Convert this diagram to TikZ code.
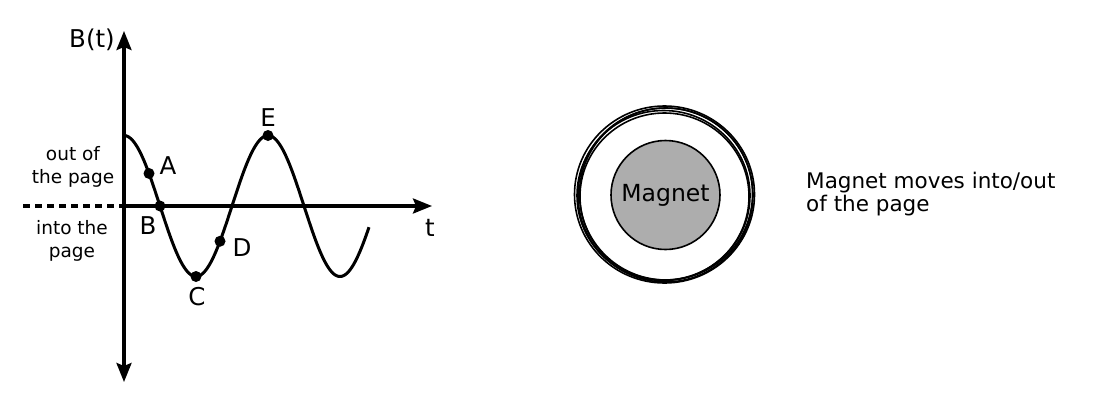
\documentclass[tikz,border=0pt]{standalone}
\usepackage{fontspec}
\setmainfont{DejaVu Sans}
\usetikzlibrary{arrows.meta}
\begin{document}
\begin{tikzpicture}[x=1pt,y=-1pt,
  axis/.style={line width=3.2pt,-{Stealth[length=19pt,width=15pt,inset=3pt]}},
  wave/.style={line width=3pt},
  dotpt/.style={circle,fill=black,inner sep=0pt,minimum size=11pt},
  lbl/.style={font=\fontsize{24.5}{28}\selectfont,inner sep=0pt},
  side/.style={font=\fontsize{18.5}{23}\selectfont,align=center,inner sep=0pt},
  txt/.style={font=\fontsize{21.5}{23.5}\selectfont,align=left,inner sep=0pt},
  coil/.style={line width=1.6pt},
  magnet/.style={circle,draw=black,line width=1.6pt,fill=magnetgray,minimum size=109pt,inner sep=0pt,font=\fontsize{23.5}{26}\selectfont}
]
\definecolor{magnetgray}{HTML}{ADADAD}
\useasboundingbox (0,0) rectangle (1108,402);
% axes
\coordinate (O) at (124,206);
\coordinate (ytop) at (124,31);
\coordinate (ybot) at (124,382);
\coordinate (xend) at (432,206);
\coordinate (xdash) at (23,206);
\draw[axis] (O) -- (ytop);
\draw[axis] (O) -- (ybot);
\draw[axis] (O) -- (xend);
\draw[line width=3.2pt,dash pattern=on 7pt off 5pt] (xdash) -- (O);
% wave
\draw[wave] plot[domain=124:369,samples=160,smooth] (\x,{206-70.5*cos((\x-124)*2.5)});
% points
\node[dotpt] (pA) at (149,{206-70.5*cos((149-124)*2.5)}) {};
\node[dotpt] (pB) at (160,206) {};
\node[dotpt] (pC) at (196,276.5) {};
\node[dotpt] (pD) at (220,{206-70.5*cos((220-124)*2.5)}) {};
\node[dotpt] (pE) at (268,135.5) {};
% labels
\node[lbl] (lA) at (168,166) {A};
\node[lbl] (lB) at (148,226) {B};
\node[lbl] (lC) at (197,297) {C};
\node[lbl] (lD) at (242,248) {D};
\node[lbl] (lE) at (268,118) {E};
\node[lbl] (lt) at (430,228) {t};
\node[lbl] (lBt) at (92,40) {B(t)};
\node[side] (out) at (73,167) {out of\\the page};
\node[side] (into) at (72,241) {into the\\page};
% coil
\draw[coil] (664.5,194.5) ellipse [x radius=90, y radius=88.5];
\draw[coil] (665.5,195) ellipse [x radius=87.5, y radius=87];
\draw[coil] (663.5,195.5) ellipse [x radius=86.5, y radius=85];
\draw[coil] (666,194) ellipse [x radius=86.5, y radius=86];
\draw[coil] (664.5,196.5) ellipse [x radius=84.5, y radius=83.5];
% magnet
\node[magnet] (mag) at (665.5,195) {Magnet};
% description
\node[txt,anchor=west] (desc) at (806,194) {Magnet moves into/out\\of the page};
\end{tikzpicture}
\end{document}
